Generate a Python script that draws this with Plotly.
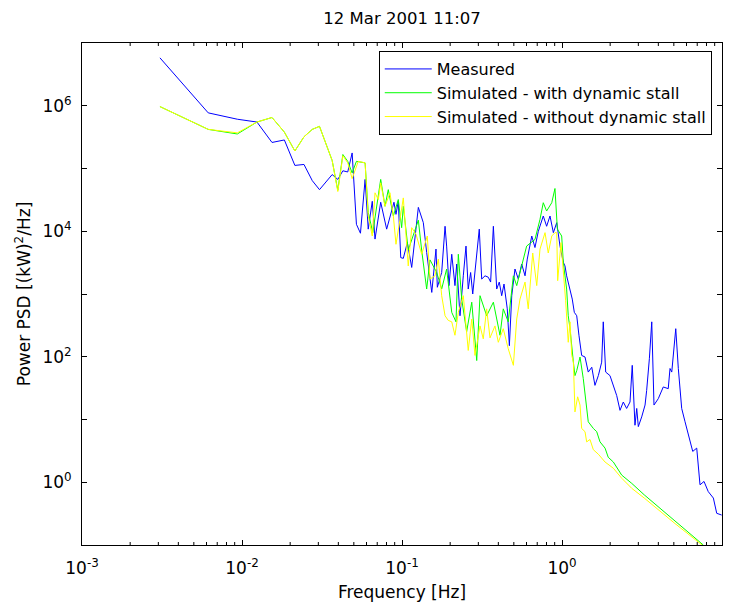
import plotly.graph_objects as go

# ── Data (frequency in Hz, PSD in (kW)^2/Hz) ──
freq_measured = [
    0.00307, 0.00615, 0.00935, 0.0124, 0.0154, 0.0184, 0.0214, 0.0244, 0.0275, 0.0305,
    0.0366, 0.0397, 0.0427, 0.0458, 0.0488, 0.0519, 0.0550, 0.0588, 0.0615, 0.0652,
    0.0678, 0.0736, 0.0802, 0.0863, 0.0891, 0.0917, 0.0948, 0.0982, 0.1019, 0.108,
    0.115, 0.1265, 0.1359, 0.1426, 0.1535, 0.1631, 0.1663, 0.177, 0.1858, 0.1901,
    0.1966, 0.2046, 0.2143, 0.2198, 0.2304, 0.2416, 0.2512, 0.2594, 0.2685, 0.2767,
    0.29, 0.3041, 0.3148, 0.3304, 0.3461, 0.3581, 0.3724, 0.3908, 0.4055, 0.4198,
    0.434, 0.455, 0.4688, 0.4853, 0.5082, 0.5333, 0.5598, 0.5875, 0.6067, 0.6471,
    0.6776, 0.7112, 0.7638, 0.8017, 0.8414, 0.8831, 0.9268, 0.9484, 0.9716, 1.019,
    1.044, 1.069, 1.106, 1.159, 1.194, 1.236, 1.276, 1.327, 1.393, 1.459,
    1.535, 1.607, 1.687, 1.770, 1.811, 1.875, 1.995, 2.094, 2.198, 2.304,
    2.416, 2.535, 2.661, 2.748, 2.858, 2.931, 2.999, 3.148, 3.304, 3.381,
    3.516, 3.639, 3.758, 3.999, 4.295, 4.613, 4.732, 4.853, 5.140, 5.333,
    5.598, 5.875, 6.310, 6.561, 6.950, 7.286, 7.720, 8.204, 8.831, 9.268,
    9.954,
]
psd_measured = [
    5.8e6, 7.7e5, 6.1e5, 5.5e5, 2.6e5, 2.85e5, 1.12e5, 1.16e5, 6.4e4, 4.6e4,
    8.0e4, 6.7e4, 9.2e4, 8.8e4, 1.77e5, 1.29e4, 9.3e3, 6.7e4, 1.08e4, 3.0e4,
    7.5e3, 2.9e4, 1.08e4, 2.1e4, 2.9e4, 1.86e4, 3.0e4, 3.8e3, 3.7e3, 6.6e3,
    2.65e3, 2.4e4, 1.37e4, 4.6e3, 1.06e3, 5.2e3, 1.28e3, 2.2e3, 1.2e4, 5.8e3,
    1.36e3, 4.3e3, 1.36e3, 3.0e3, 4.5e2, 1.95e3, 5.8e3, 1.2e3, 2.2e3, 1.0e3,
    3.8e3, 1.08e4, 1.73e3, 1.95e3, 1.85e3, 1.55e3, 1.2e4, 1.2e3, 1.55e3, 9.4e2,
    1.44e3, 5.8e2, 1.5e2, 9.4e2, 2.5e3, 1.73e3, 3.0e3, 1.95e3, 3.6e3, 8.4e3,
    5.5e3, 1.0e4, 1.75e4, 1.2e4, 1.75e4, 9.5e3, 1.37e4, 8.4e3, 5.8e3, 3.2e3,
    2.8e3, 1.95e3, 1.36e3, 8.3e2, 5.1e2, 4.5e2, 2.2e2, 1.05e2, 99, 57,
    68, 35, 50, 82, 3.6e2, 57, 50, 35, 24, 14,
    19, 15, 19, 73, 8.1, 15, 7.7, 11, 17, 29,
    93, 3.6e2, 17, 21.5, 33, 31, 65, 57, 2.8e2, 65,
    15, 9.2, 4.4, 3.1, 3.5, 0.91, 1.03, 0.71, 0.56, 0.32,
    0.30,
]

freq_dyn_stall = [
    0.00307, 0.00615, 0.00935, 0.0124, 0.0154, 0.0184, 0.0214, 0.0244, 0.0275, 0.0305,
    0.0366, 0.0397, 0.0427, 0.0458, 0.0488, 0.0519, 0.0588, 0.0615, 0.0657, 0.0711,
    0.0736, 0.0783, 0.0821, 0.0883, 0.0948, 0.0995, 0.1019, 0.1094, 0.1178, 0.1265,
    0.1327, 0.1426, 0.1496, 0.1648, 0.177, 0.1901, 0.2046, 0.2175, 0.2249, 0.2361,
    0.2535, 0.2729, 0.2931, 0.3073, 0.3381, 0.3724, 0.4097, 0.4295, 0.4613, 0.4966,
    0.5212, 0.5598, 0.6012, 0.6776, 0.7286, 0.7638, 0.8017, 0.863, 0.9036, 0.9354,
    0.9954, 1.019, 1.069, 1.094, 1.122, 1.178, 1.205, 1.236, 1.296, 1.358,
    1.393, 1.426, 1.459, 1.570, 1.648, 1.728, 1.858, 1.945, 2.094, 2.361,
    2.729, 3.266, 5.08, 7.64,
]
psd_dyn_stall = [
    9.7e5, 4.2e5, 3.55e5, 5.5e5, 6.5e5, 3.8e5, 1.9e5, 3.2e5, 4.2e5, 4.7e5,
    1.34e5, 4.5e4, 1.67e5, 1.3e5, 8.5e4, 1.3e5, 1.23e5, 2.0e4, 9.5e3, 4.0e4,
    6.7e4, 2.5e4, 4.6e4, 1.75e4, 3.2e4, 1.14e4, 2.5e4, 5.0e3, 9.0e3, 1.5e4,
    5.0e3, 1.2e3, 3.5e3, 2.2e3, 1.2e3, 2.5e3, 5.1e2, 3.6e2, 4.3e3, 8.3e2,
    2.5e2, 7.4e2, 87, 9.4e2, 4.5e2, 7.4e2, 2.2e2, 5.8e2, 3.6e2, 1.95e3,
    1.36e3, 2.8e3, 5.8e3, 7.4e3, 1.55e4, 2.85e4, 2.1e4, 2.85e4, 4.8e4, 1.08e4,
    8.4e3, 3.2e3, 1.2e3, 4.5e2, 2.8e2, 82, 50, 60, 99, 45,
    24, 15, 9.2, 7.2, 6.4, 4.4, 3.5, 2.5, 2.1, 1.3,
    0.96, 0.63, 0.243, 0.10,
]

freq_no_stall = [
    0.00307, 0.00615, 0.00935, 0.0124, 0.0154, 0.0184, 0.0214, 0.0244, 0.0275, 0.0305,
    0.0366, 0.0397, 0.0427, 0.0458, 0.0488, 0.0533, 0.0588, 0.0615, 0.0652, 0.0678,
    0.0711, 0.0736, 0.0783, 0.0841, 0.0883, 0.0917, 0.0972, 0.1019, 0.1094, 0.115,
    0.1223, 0.1327, 0.1439, 0.1496, 0.1607, 0.1687, 0.177, 0.1858, 0.1945, 0.2046,
    0.2143, 0.2249, 0.2416, 0.2594, 0.2729, 0.2858, 0.3073, 0.3221, 0.3381, 0.3548,
    0.3811, 0.3999, 0.4295, 0.4613, 0.4966, 0.5212, 0.5464, 0.5875, 0.6152, 0.6561,
    0.695, 0.7286, 0.7834, 0.8204, 0.863, 0.9036, 0.9268, 0.9397, 0.986, 1.019,
    1.044, 1.054, 1.094, 1.122, 1.151, 1.178, 1.205, 1.253, 1.296, 1.327,
    1.393, 1.426, 1.496, 1.570, 1.687, 1.858, 2.094, 2.361, 2.729, 3.266,
    5.08, 7.5,
]
psd_no_stall = [
    9.7e5, 4.2e5, 3.7e5, 5.5e5, 6.5e5, 3.8e5, 1.9e5, 3.2e5, 4.2e5, 4.7e5,
    1.34e5, 4.3e4, 1.6e5, 1.23e5, 6.9e4, 1.3e5, 1.23e5, 1.75e4, 8.4e3, 4.1e4,
    3.2e4, 5.9e4, 2.5e4, 4.1e4, 1.75e4, 6.2e3, 1.55e4, 3.4e4, 2.8e3, 1.14e4,
    9.0e3, 4.3e3, 8.4e3, 1.73e3, 1.95e3, 3.6e3, 9.4e2, 4.5e2, 3.8e2, 3.6e2,
    2.2e2, 5.1e2, 9.4e2, 1.26e2, 4.0e2, 1.05e2, 3.1e2, 1.93e2, 5.8e2, 2.0e2,
    3.1e2, 1.7e2, 2.8e2, 1.34e2, 73, 4.0e2, 8.3e2, 1.55e3, 5.8e2, 4.5e3,
    1.36e3, 5.2e3, 9.5e3, 4.5e3, 8.4e3, 9.5e3, 9.5e3, 1.63e3, 6.6e3, 2.2e3,
    1.36e3, 7.8e2, 1.7e2, 3.6e2, 1.05e2, 82, 13.2, 23, 17, 7.2,
    6.4, 4.4, 4.8, 3.3, 2.8, 2.1, 1.67, 1.16, 0.80, 0.56,
    0.22, 0.10,
]

# ── Tick marks ──
x_major = [1e-3, 1e-2, 1e-1, 1e0, 1e1]
x_major_text = ["10<sup>-3</sup>", "10<sup>-2</sup>", "10<sup>-1</sup>", "10<sup>0</sup>", "10<sup>1</sup>"]
x_minor = [m * d for d in [1e-3, 1e-2, 1e-1, 1e0] for m in range(2, 10)]
y_major = [1e0, 1e1, 1e2, 1e3, 1e4, 1e5, 1e6, 1e7]
y_major_text = ["10<sup>0</sup>", "", "10<sup>2</sup>", "", "10<sup>4</sup>", "", "10<sup>6</sup>", ""]

FONT = "DejaVu Sans"

fig = go.Figure()
fig.add_trace(go.Scatter(x=freq_measured, y=psd_measured, mode="lines",
                         name="Measured", line=dict(color="#0000ff", width=1)))
fig.add_trace(go.Scatter(x=freq_dyn_stall, y=psd_dyn_stall, mode="lines",
                         name="Simulated - with dynamic stall", line=dict(color="#00ff00", width=1)))
fig.add_trace(go.Scatter(x=freq_no_stall, y=psd_no_stall, mode="lines",
                         name="Simulated - without dynamic stall", line=dict(color="#ffff00", width=1)))

axis_style = dict(
    showline=True, linecolor="black", linewidth=1, mirror="allticks",
    ticks="inside", ticklen=5, tickcolor="black", tickwidth=1,
    showgrid=False, zeroline=False, automargin=False,
    tickfont=dict(family=FONT, size=17, color="black"),
)

fig.update_xaxes(
    type="log", range=[-3, 1],
    tickmode="array", tickvals=x_major, ticktext=x_major_text,
    ticklabelstandoff=8,
    title=dict(text="Frequency [Hz]", font=dict(family=FONT, size=17, color="black"), standoff=8),
    **axis_style,
)
fig.update_yaxes(
    type="log", range=[-1, 7],
    tickmode="array", tickvals=y_major, ticktext=y_major_text,
    ticklabelstandoff=6,
    title=dict(text="Power PSD [(kW)<sup>2</sup>/Hz]", font=dict(family=FONT, size=17, color="black"), standoff=7),
    **axis_style,
)

# short minor ticks (2..9 of each decade) on bottom and top frame edges
for v in x_minor:
    for anchor, length in [(0, 3), (1, -3)]:
        fig.add_shape(type="line", xref="x", yref="paper", ysizemode="pixel", yanchor=anchor,
                      x0=v, x1=v, y0=0, y1=length, line=dict(color="black", width=1))

fig.update_layout(
    width=734, height=604,
    margin=dict(l=82, r=12, t=43, b=59),
    paper_bgcolor="white", plot_bgcolor="white",
    font=dict(family=FONT, size=17, color="black"),
    title=dict(text="12 Mar 2001 11:07", x=0.5, xref="paper", y=0.969, yref="container",
               yanchor="middle", font=dict(family=FONT, size=16.5, color="black")),
    legend=dict(x=0.984, y=0.984, xanchor="right", yanchor="top",
                bgcolor="white", bordercolor="black", borderwidth=1, itemwidth=47,
                font=dict(family=FONT, size=16, color="black"), tracegroupgap=0),
    showlegend=True,
)

# drop the page's default body margin so the figure sits at the window corner
fig.write_html("out.html", config={"displayModeBar": False},
               post_script="document.body.style.margin='0';")
